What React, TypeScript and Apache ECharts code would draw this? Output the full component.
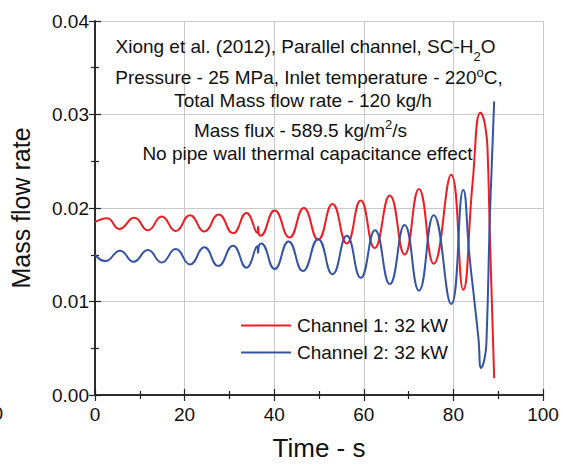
import React, { useEffect, useRef } from "react";
import * as echarts from "echarts";

// Channel 1 (red): time (s) and mass flow rate
const timeCh1 = [0, 2.7, 5.4, 8.8, 11.8, 14.9, 18.0, 21.2, 24.4, 27.6, 30.8, 33.8, 36.2, 36.4, 36.6, 36.9, 40.1, 43.4, 46.6, 49.8, 53.0, 56.2, 59.3, 62.4, 65.8, 69.1, 72.3, 75.6, 79.5, 82.2, 84.3, 86.0, 86.6, 87.2, 87.6, 88.2, 89.1];
const flowCh1 = [0.0185, 0.0189, 0.01776, 0.01895, 0.01761, 0.01909, 0.01754, 0.01923, 0.0175, 0.0193, 0.01729, 0.01947, 0.01735, 0.0180, 0.0172, 0.01702, 0.01972, 0.01684, 0.0200, 0.01662, 0.02042, 0.01621, 0.02081, 0.01572, 0.02134, 0.01502, 0.02203, 0.01403, 0.02355, 0.01125, 0.0228, 0.0302, 0.0298, 0.0284, 0.0265, 0.0160, 0.0018];

// Channel 2 (blue)
const timeCh2 = [0, 2.3, 5.6, 8.6, 11.8, 14.9, 18.0, 21.2, 24.4, 27.5, 30.8, 33.8, 36.2, 36.4, 36.6, 37.1, 40.1, 43.2, 46.4, 49.8, 53.0, 56.2, 59.3, 62.5, 65.8, 69.1, 72.3, 75.6, 79.5, 82.2, 83.6, 84.7, 85.6, 86.2, 87.0, 87.4, 88.2, 89.1];
const flowCh2 = [0.0150, 0.01432, 0.01544, 0.01425, 0.0155, 0.01417, 0.01561, 0.01396, 0.01579, 0.01379, 0.01596, 0.01362, 0.0159, 0.0152, 0.0160, 0.01621, 0.01347, 0.01642, 0.01326, 0.01667, 0.01291, 0.01702, 0.01253, 0.01761, 0.01186, 0.01818, 0.01116, 0.01923, 0.00972, 0.02193, 0.0148, 0.0100, 0.0060, 0.0029, 0.0040, 0.0060, 0.0200, 0.0314];

const seriesNames = ["Channel 1: 32 kW", "Channel 2: 32 kW"];
const xTicks = { min: 0, max: 100, interval: 20 };
const yTicks = { min: 0, max: 0.04, interval: 0.01 };

const annotationLines = [
  "Xiong et al. (2012), Parallel channel, SC-H{sub|2}O",
  "Pressure - 25 MPa, Inlet temperature - 220{sup|o}C,",
  "Total Mass flow rate - 120 kg/h",
  "Mass flux - 589.5 kg/m{sup|2}/s",
  "No pipe wall thermal capacitance effect",
];
const annotationX = [305.5, 309, 303, 300.5, 307.5];
const annotationY = [46.5, 77.5, 100.7, 130, 153];

const FONT = "'Liberation Sans', Arial, Helvetica, sans-serif";

export default function App() {
  const ref = useRef<HTMLDivElement>(null);
  useEffect(() => {
    if (!ref.current) return;
    const chart = echarts.init(ref.current, undefined, { renderer: "svg" });
    const d1 = timeCh1.map((t, i) => [t, flowCh1[i]]);
    const d2 = timeCh2.map((t, i) => [t, flowCh2[i]]);
    const axisLine = { show: true, lineStyle: { color: "#222", width: 1.5 } };
    const tick = { show: true, inside: true, length: 6, lineStyle: { color: "#222", width: 1.2 } };
    const minor = { show: true, splitNumber: 2, length: 4, lineStyle: { color: "#222", width: 1.2 } };
    const label = { fontFamily: FONT, fontSize: 19, color: "#111" };
    chart.setOption({
      animation: false,
      backgroundColor: "#fff",
      grid: { left: 93, right: 20, top: 21, bottom: 66, containLabel: false },
      xAxis: [
        {
          type: "value", ...xTicks,
          name: "Time - s", nameLocation: "middle", nameGap: 40,
          nameTextStyle: { fontFamily: FONT, fontSize: 26, color: "#111" },
          axisLine, axisTick: tick, minorTick: minor,
          axisLabel: { ...label, margin: 10 },
          splitLine: { show: true, lineStyle: { color: "#c8c8c8", width: 1 } },
        },
        {
          type: "value", ...xTicks, position: "top",
          axisLine, axisTick: tick, minorTick: minor,
          axisLabel: { show: false }, splitLine: { show: false },
        },
      ],
      yAxis: [
        {
          type: "value", ...yTicks,
          name: "Mass flow rate", nameLocation: "middle", nameGap: 62,
          nameTextStyle: { fontFamily: FONT, fontSize: 25, color: "#111" },
          axisLine, axisTick: tick, minorTick: minor,
          axisLabel: { ...label, margin: 6, formatter: (v: number) => v.toFixed(2) },
          splitLine: { show: true, lineStyle: { color: "#c8c8c8", width: 1 } },
        },
        {
          type: "value", ...yTicks, position: "right",
          axisLine, axisTick: tick, minorTick: minor,
          axisLabel: { show: false }, splitLine: { show: false },
        },
      ],
      legend: {
        orient: "vertical", left: 241, top: 316, padding: 0,
        icon: "rect", itemWidth: 50, itemHeight: 2, itemGap: 8,
        textStyle: { fontFamily: FONT, fontSize: 19, color: "#111", lineHeight: 16, padding: [0, 0, 0, 1] },
        data: seriesNames,
      },
      series: [
        {
          name: seriesNames[0], type: "line", data: d1, showSymbol: false, symbol: "none",
          smooth: 0.5, color: "#ee1d23", lineStyle: { width: 2, color: "#ee1d23" },
        },
        {
          name: seriesNames[1], type: "line", data: d2, showSymbol: false, symbol: "none",
          smooth: 0.5, color: "#3453a4", lineStyle: { width: 2, color: "#3453a4" },
        },
      ],
      graphic: [
        ...annotationLines.map((t, i) => ({
          type: "text",
          x: annotationX[i],
          y: annotationY[i],
          z: 100,
          style: {
            text: t,
            align: "center",
            verticalAlign: "middle",
            fontFamily: FONT,
            fontSize: 19,
            fill: "#111",
            rich: {
              sub: { fontFamily: FONT, fontSize: 13, fill: "#111", padding: [20, 0, 0, 0] },
              sup: { fontFamily: FONT, fontSize: 13, fill: "#111", padding: [0, 0, 11, 0] },
            },
          },
        })),
        {
          type: "text", x: 3, y: 413,
          style: { text: "0", align: "right", verticalAlign: "middle", fontFamily: FONT, fontSize: 19, fill: "#111" },
        },
      ],
    });
    return () => chart.dispose();
  }, []);
  return <div ref={ref} style={{ width: 563, height: 466, position: "absolute", left: 0, top: 0 }} />;
}
